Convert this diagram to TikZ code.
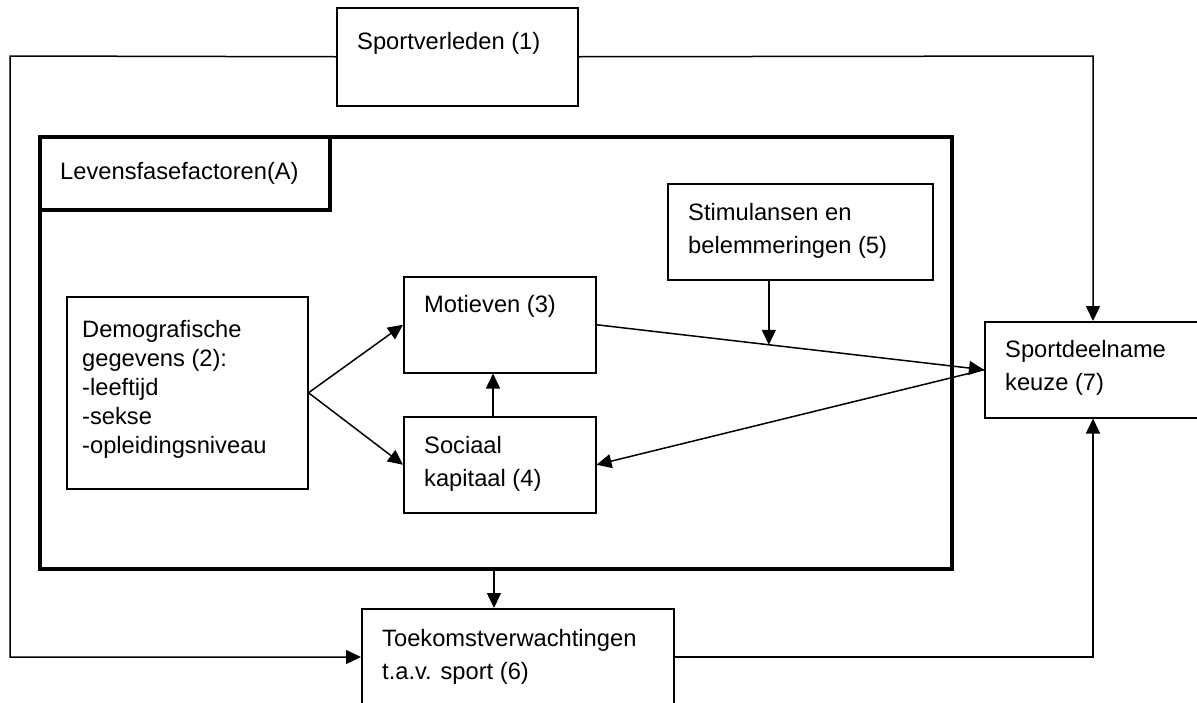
\documentclass[tikz,border=0pt]{standalone}
\usepackage{fontspec}
\setmainfont{Liberation Sans}
\usetikzlibrary{arrows.meta,calc}
\begin{document}
\begin{tikzpicture}[x=1pt,y=-1pt,
  box/.style={draw, rectangle, line width=1.5pt, inner sep=0pt, anchor=north west},
  frame/.style={box, line width=3.8pt},
  lbl/.style={anchor=north west, inner sep=0pt, align=left, font=\fontsize{23.7}{33}\selectfont},
  conn/.style={line width=1.5pt},
  arr/.style={conn, -{Triangle[length=15pt,width=14pt]}},
]
\useasboundingbox (0,0) rectangle (1197,702);

% boxes
\node[frame, minimum width=912pt, minimum height=432pt] (outer) at (38,135) {};
\node[frame, minimum width=290pt, minimum height=73pt] (lf) at (38,135) {};
\node[box, minimum width=241pt, minimum height=98pt] (sv) at (336,7) {};
\node[box, minimum width=265pt, minimum height=96pt] (stim) at (667,183) {};
\node[box, minimum width=241pt, minimum height=192pt] (demo) at (66,296) {};
\node[box, minimum width=192pt, minimum height=96pt] (mot) at (403,276) {};
\node[box, minimum width=192pt, minimum height=96pt] (soc) at (403,416) {};
\node[box, minimum width=226pt, minimum height=96pt] (spd) at (984,321) {};
\node[box, minimum width=312pt, minimum height=110pt] (toek) at (361,608) {};

% texts
\node[lbl] (sv-t) at (357,32.5) {Sportverleden (1)};
\node[lbl] (lf-t) at (60,162) {Levensfasefactoren(A)};
\node[lbl] (stim-t) at (688,203) {Stimulansen en\\belemmeringen (5)};
\node[lbl, font=\fontsize{23.7}{29}\selectfont] (demo-t) at (82,320)
  {Demografische\\gegevens (2):\\-leeftijd\\-sekse\\-opleidingsniveau};
\node[lbl] (mot-t) at (424,295) {Motieven (3)};
\node[lbl] (soc-t) at (424,436) {Sociaal\\kapitaal (4)};
\node[lbl] (spd-t) at (1005,340) {Sportdeelname\\keuze (7)};
\node[lbl] (toek-t) at (382,629) {Toekomstverwachtingen\\t.a.v. sport (6)};

% routing points
\coordinate (ltop) at (10,56);
\coordinate (lbot) at (10,657);
\coordinate (rtop) at (1093,56);
\coordinate (rbot) at (1093,657);
\coordinate (mid) at (494,0);
\coordinate (up) at (493,0);
\coordinate (hit) at ($(mot.east)!0.4447!(spd.west)$);

% connectors
\draw[arr] (sv.west) -- (ltop) -- (lbot) -- (toek.west |- lbot);
\draw[arr] (sv.east) -- (rtop) -- (rtop |- spd.north);
\draw[arr] (outer.south -| mid) -- (toek.north -| mid);
\draw[arr] (toek.east |- rbot) -- (rbot) -- (rbot |- spd.south);
\draw[arr] (demo.east) -- (mot.west);
\draw[arr] (demo.east) -- (soc.west);
\draw[arr] (soc.north -| up) -- (mot.south -| up);
\draw[arr] (mot.east) -- (spd.west);
\draw[arr] (spd.west) -- (soc.east);
\draw[arr] (stim.south -| hit) -- (hit);
\end{tikzpicture}
\end{document}
